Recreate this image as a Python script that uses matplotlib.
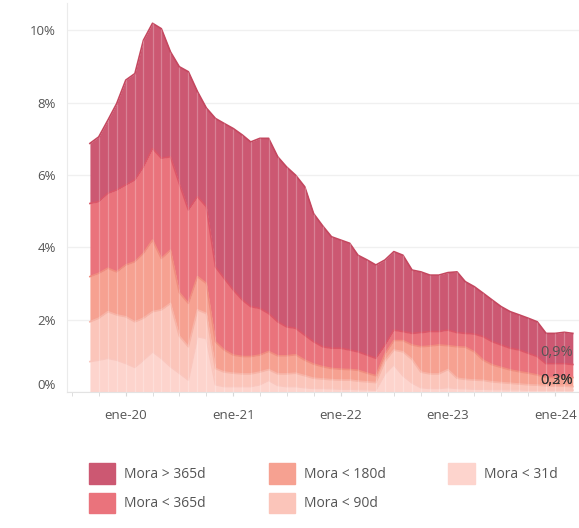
import matplotlib
matplotlib.use('Agg')
import matplotlib.pyplot as plt
import matplotlib.dates as mdates
from matplotlib.patches import Patch
from matplotlib.transforms import ScaledTranslation
import numpy as np
import pandas as pd

plt.rcParams['font.family'] = ['Open Sans', 'DejaVu Sans']

# meses: sep-2019 .. mar-2024
months = pd.date_range('2019-09-01', '2024-03-01', freq='MS')

# valores de cada tramo (% de la cartera)
mora_31 = [0.84, 0.88, 0.93, 0.88, 0.79, 0.68, 0.88, 1.11, 0.93, 0.70,
           0.52, 0.33, 1.53, 1.48, 0.20, 0.15, 0.15, 0.15, 0.15, 0.20,
           0.32, 0.18, 0.15, 0.15, 0.12, 0.10, 0.10, 0.09, 0.08, 0.08,
           0.07, 0.06, 0.05, 0.50, 0.75, 0.45, 0.25, 0.12, 0.10, 0.10,
           0.12, 0.10, 0.09, 0.08, 0.08, 0.07, 0.07, 0.06, 0.06, 0.05,
           0.05, 0.05, 0.05, 0.05, 0.05]
mora_90 = [1.10, 1.16, 1.29, 1.25, 1.29, 1.26, 1.16, 1.11, 1.34, 1.75,
           1.03, 0.92, 0.74, 0.69, 0.45, 0.40, 0.37, 0.35, 0.35, 0.35,
           0.30, 0.32, 0.35, 0.37, 0.33, 0.28, 0.26, 0.25, 0.25, 0.25,
           0.23, 0.22, 0.21, 0.35, 0.41, 0.66, 0.65, 0.43, 0.40, 0.40,
           0.50, 0.28, 0.26, 0.25, 0.24, 0.21, 0.19, 0.18, 0.16, 0.15,
           0.14, 0.12, 0.11, 0.11, 0.10]
mora_180 = [1.25, 1.24, 1.20, 1.19, 1.43, 1.66, 1.79, 1.98, 1.42, 1.47,
            1.20, 1.20, 0.92, 0.83, 0.74, 0.61, 0.50, 0.48, 0.48, 0.47,
            0.50, 0.50, 0.50, 0.51, 0.43, 0.39, 0.34, 0.31, 0.30, 0.29,
            0.30, 0.24, 0.19, 0.20, 0.26, 0.31, 0.40, 0.70, 0.77, 0.80,
            0.66, 0.87, 0.89, 0.78, 0.56, 0.47, 0.42, 0.37, 0.34, 0.32,
            0.28, 0.23, 0.24, 0.24, 0.25]
mora_365 = [2.02, 1.98, 2.07, 2.26, 2.21, 2.26, 2.39, 2.53, 2.77, 2.58,
            3.01, 2.58, 2.21, 2.12, 2.07, 1.98, 1.80, 1.56, 1.38, 1.29,
            1.05, 0.94, 0.80, 0.73, 0.69, 0.62, 0.55, 0.56, 0.58, 0.54,
            0.51, 0.50, 0.48, 0.25, 0.29, 0.25, 0.32, 0.39, 0.40, 0.37,
            0.43, 0.39, 0.38, 0.49, 0.65, 0.64, 0.62, 0.60, 0.60, 0.55,
            0.51, 0.38, 0.38, 0.38, 0.36]
mora_365_plus = [1.66, 1.79, 2.02, 2.39, 2.90, 2.94, 3.50, 3.46, 3.58, 2.90,
                 3.23, 3.82, 2.90, 2.73, 4.10, 4.28, 4.46, 4.56, 4.55, 4.70,
                 4.84, 4.56, 4.42, 4.23, 4.10, 3.54, 3.34, 3.08, 2.99, 2.95,
                 2.67, 2.63, 2.58, 2.35, 2.17, 2.11, 1.75, 1.68, 1.56, 1.56,
                 1.59, 1.68, 1.43, 1.31, 1.20, 1.15, 1.06, 1.01, 0.97, 0.97,
                 0.96, 0.84, 0.84, 0.87, 0.86]

series = [mora_31, mora_90, mora_180, mora_365, mora_365_plus]
labels = ['Mora < 31d', 'Mora < 90d', 'Mora < 180d', 'Mora < 365d', 'Mora > 365d']
colors = ['#FDD4CD', '#FBC5BA', '#F6A191', '#EA737C', '#CC5872']
edges = ['#FAC6BD', '#F7B3A6', '#F08C7E', '#DC5668', '#C4475F']

year_ticks = ['ene-20', 'ene-21', 'ene-22', 'ene-23', 'ene-24']
y_ticks = [0, 2, 4, 6, 8, 10]

fig = plt.figure(figsize=(5.79, 5.28), dpi=100)
ax = fig.add_axes([67 / 579, 136 / 528, 512 / 579, 389 / 528])

cum = np.cumsum(np.array(series), axis=0)
base = np.zeros(len(months))
for k in range(len(series)):
    ax.fill_between(months, base, cum[k], color=colors[k], lw=0, zorder=2)
    ax.plot(months, cum[k], color=edges[k], lw=1.2, zorder=3)
    base = cum[k]

# rayitas blancas de cada mes
ax.vlines(months[1:-1], 0, cum[-1][1:-1], colors='white', alpha=0.25, lw=0.9, zorder=4)

ax.set_ylim(0, 10.75)
ax.set_xlim(months[0] - pd.Timedelta(days=78), months[-1] + pd.Timedelta(days=21))

ax.set_yticks(y_ticks)
ax.set_yticklabels([f'{t}%' for t in y_ticks])
ax.yaxis.grid(True, color='#F0F0F0', lw=1)
ax.set_axisbelow(True)

jan = [pd.Timestamp(f'20{t[-2:]}-01-01') for t in year_ticks]
ax.set_xticks(jan)
ax.set_xticklabels(year_ticks)
ax.xaxis.set_minor_locator(mdates.MonthLocator(bymonth=[1, 4, 7, 10]))

ax.tick_params(axis='y', length=0, pad=8, labelsize=9.5, labelcolor='#555555')
ax.tick_params(axis='x', which='both', length=3, color='#D8D8D8', pad=9,
               labelsize=9.5, labelcolor='#555555')

# el 0% va un poco mas arriba, como en el original
lab0 = ax.get_yticklabels()[0]
lab0.set_transform(lab0.get_transform() + ScaledTranslation(0, 8 / 100, fig.dpi_scale_trans))

for s in ['top', 'right']:
    ax.spines[s].set_visible(False)
ax.spines['left'].set_color('#EBEBEB')
ax.spines['bottom'].set_color('#E3E3E3')

# etiquetas del ultimo mes
ax.text(months[-1], 1.08, '0,9%', ha='right', va='center', fontsize=10.5,
        color='#555555', zorder=5)
ax.text(months[-1], 0.33, '0,3%', ha='right', va='center', fontsize=10.5,
        color='#333333', zorder=5)
ax.text(months[-1], 0.33, '0,2%', ha='right', va='center', fontsize=10.5,
        color='#333333', zorder=5)

order = [4, 3, 2, 1, 0]
handles = [Patch(facecolor=colors[k], edgecolor=colors[k], label=labels[k]) for k in order]
leg = fig.legend(handles=handles, ncol=3, loc='upper left',
                 bbox_to_anchor=(89 / 579, 1 - 463 / 528), frameon=False,
                 fontsize=10, handlelength=1.9, handleheight=1.9,
                 handletextpad=0.65, columnspacing=4.5, labelspacing=0.65,
                 borderpad=0, borderaxespad=0)
for t in leg.get_texts():
    t.set_color('#555555')

fig.savefig('out.png', dpi=100)
